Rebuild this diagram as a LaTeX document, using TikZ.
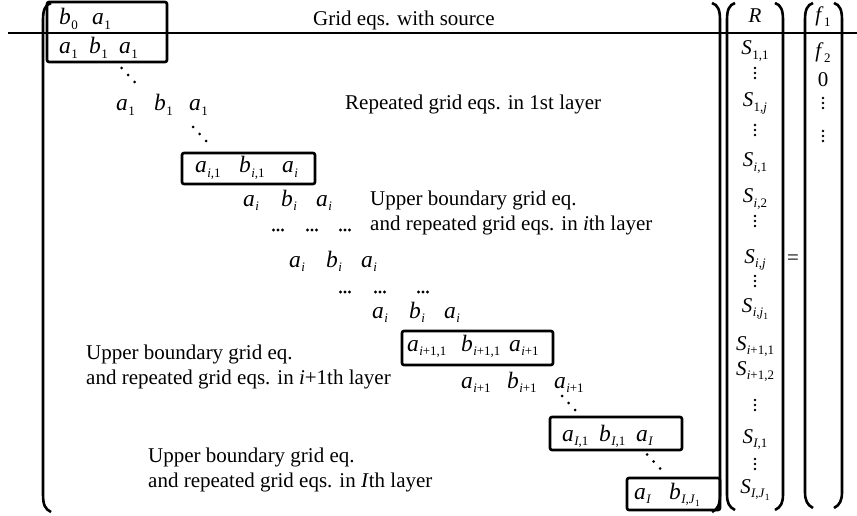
\documentclass[tikz,border=0pt]{standalone}
\usepackage{fontspec}
\setmainfont{Liberation Serif}
\newcommand\sv[2]{\textit{#1}\kern0.3pt\raisebox{-4.5pt}{\fontsize{13}{13}\selectfont #2}}
\newcommand\ssub[2]{\textit{#1}\raisebox{-2.5pt}{\fontsize{9.5}{9.5}\selectfont #2}}
\tikzset{
 txt/.style={inner sep=0pt, font=\fontsize{21}{25}\selectfont, anchor=base west, align=left},
 ent/.style={inner sep=0pt, font=\fontsize{23.5}{25}\selectfont, anchor=base west},
 vent/.style={inner sep=0pt, font=\fontsize{21}{24}\selectfont, anchor=base},
 eqbox/.style={draw, line width=2.6pt, rounded corners=2pt, inner sep=0pt},
 paren/.style={line width=2.6pt},
 vdts/.pic={\fill (0,-5) circle (1.4) (0,0) circle (1.4) (0,5) circle (1.4);},
 hdts/.pic={\fill (-4.5,0) circle (1.6) (0,0) circle (1.6) (4.5,0) circle (1.6);},
 ddts/.pic={\fill (-6.5,-7) circle (1.5) (0,0) circle (1.5) (6.5,7) circle (1.5);},
}
\begin{document}
\begin{tikzpicture}[x=1pt,y=-1pt]
\fill[white] (0,0) rectangle (857,516);
\useasboundingbox (0,0) rectangle (857,516);
% top line
\draw[line width=2.6pt] (8,33) -- (857,33);
% boxes
\node[eqbox, minimum width=120pt, minimum height=60pt] (box1) at (107,32) {};
\node[eqbox, minimum width=133pt, minimum height=31pt] (box2) at (248.5,168.5) {};
\node[eqbox, minimum width=151pt, minimum height=34pt] (box3) at (477.5,348) {};
\node[eqbox, minimum width=132pt, minimum height=33pt] (box4) at (616,433.5) {};
\node[eqbox, minimum width=93pt, minimum height=32pt] (box5) at (673.5,494) {};
% big parentheses
\draw[paren] (51,3) .. controls (45,5) and (43,10) .. (43,20) -- (43,494) .. controls (43,505) and (45,509) .. (51,512);
\draw[paren] (712,3) .. controls (718,5) and (720,10) .. (720,20) -- (720,494) .. controls (720,505) and (718,509) .. (712,512);
\draw[paren] (735,3) .. controls (729,5) and (727,10) .. (727,20) -- (727,494) .. controls (727,503) and (729,507) .. (735,510);
\draw[paren] (775,3) .. controls (781,5) and (783,10) .. (783,20) -- (783,494) .. controls (783,503) and (781,507) .. (775,510);
\draw[paren] (813,3) .. controls (807,5) and (805,10) .. (805,20) -- (805,492) .. controls (805,500) and (807,505) .. (813,508);
\draw[paren] (834,3) .. controls (840,5) and (842,10) .. (842,20) -- (842,492) .. controls (842,500) and (840,505) .. (834,508);
% row entries
\node[ent] (r1a) at (59,25) {\sv{b}{0}};
\node[ent] (r1b) at (92,25) {\sv{a}{1}};
\node[ent] (r2a) at (59,54) {\sv{a}{1}};
\node[ent] (r2b) at (89,54) {\sv{b}{1}};
\node[ent] (r2c) at (119,54) {\sv{a}{1}};
\pic at (128,75) {ddts};
\node[ent] (r3a) at (116,111) {\sv{a}{1}};
\node[ent] (r3b) at (154,111) {\sv{b}{1}};
\node[ent] (r3c) at (189,111) {\sv{a}{1}};
\pic at (199.5,134) {ddts};
\node[ent] (r4a) at (195,173) {\sv{a}{\textit{i},1}};
\node[ent] (r4b) at (239,173) {\sv{b}{\textit{i},1}};
\node[ent] (r4c) at (282,173) {\sv{a}{\textit{i}}};
\node[ent] (r5a) at (243,206) {\sv{a}{\textit{i}}};
\node[ent] (r5b) at (281,206) {\sv{b}{\textit{i}}};
\node[ent] (r5c) at (316,206) {\sv{a}{\textit{i}}};
\pic at (278,230) {hdts};
\pic at (312,230) {hdts};
\pic at (345,230) {hdts};
\node[ent] (r6a) at (289,267) {\sv{a}{\textit{i}}};
\node[ent] (r6b) at (326,267) {\sv{b}{\textit{i}}};
\node[ent] (r6c) at (361,267) {\sv{a}{\textit{i}}};
\pic at (345,292) {hdts};
\pic at (380,292) {hdts};
\pic at (423,292) {hdts};
\node[ent] (r7a) at (372,318) {\sv{a}{\textit{i}}};
\node[ent] (r7b) at (409,318) {\sv{b}{\textit{i}}};
\node[ent] (r7c) at (444,318) {\sv{a}{\textit{i}}};
\node[ent] (r8a) at (407,351) {\sv{a}{\textit{i}+1,1}};
\node[ent] (r8b) at (461,351) {\sv{b}{\textit{i}+1,1}};
\node[ent] (r8c) at (509,351) {\sv{a}{\textit{i}+1}};
\node[ent] (r9a) at (461,388) {\sv{a}{\textit{i}+1}};
\node[ent] (r9b) at (507,388) {\sv{b}{\textit{i}+1}};
\node[ent] (r9c) at (554,388) {\sv{a}{\textit{i}+1}};
\pic at (568.5,403) {ddts};
\node[ent] (r10a) at (562,441) {\sv{a}{\textit{I},1}};
\node[ent] (r10b) at (599,441) {\sv{b}{\textit{I},1}};
\node[ent] (r10c) at (636,441) {\sv{a}{\textit{I}}};
\pic at (653.5,461.5) {ddts};
\node[ent] (r11a) at (634,499) {\sv{a}{\textit{I}}};
\node[ent] (r11b) at (669,499) {\sv{b}{\textit{I},\ssub{J}{1}}};
% descriptions
\node[txt] (t1) at (313,26) {Grid eqs. with source};
\node[txt] (t2) at (345,110) {Repeated grid eqs. in 1st layer};
\node[txt] (t3) at (370,205) {Upper boundary grid eq.};
\node[txt] (t3b) at (370,230) {and repeated grid eqs. in \textit{i}th layer};
\node[txt] (t4) at (86,359) {Upper boundary grid eq.};
\node[txt] (t4b) at (86,384) {and repeated grid eqs. in \textit{i}+1th layer};
\node[txt] (t5) at (148,462) {Upper boundary grid eq.};
\node[txt] (t5b) at (148,487) {and repeated grid eqs. in \textit{I}th layer};
% R column
\node[vent] (R) at (755,23) {\textit{R}};
\node[vent] (S11) at (755,55) {\sv{S}{1,1}};
\pic at (755,73) {vdts};
\node[vent] (S1j) at (755,107) {\sv{S}{1,\textit{j}}};
\pic at (755,130) {vdts};
\node[vent] (Si1) at (755,167) {\sv{S}{\textit{i},1}};
\node[vent] (Si2) at (755,203) {\sv{S}{\textit{i},2}};
\pic at (755,221) {vdts};
\node[vent] (Sij) at (755,263) {\sv{S}{\textit{i},\textit{j}}};
\pic at (755,281) {vdts};
\node[vent] (Sij1) at (755,312) {\sv{S}{\textit{i},\ssub{j}{1}}};
\node[vent] (Sp1) at (755,350) {\sv{S}{\textit{i}+1,1}};
\node[vent] (Sp2) at (755,375) {\sv{S}{\textit{i}+1,2}};
\pic at (755,405) {vdts};
\node[vent] (SI1) at (755,443) {\sv{S}{\textit{I},1}};
\pic at (755,464) {vdts};
\node[vent] (SIJ) at (755,493) {\sv{S}{\textit{I},\ssub{J}{1}}};
% equals
\node[inner sep=0pt, font=\fontsize{21}{25}\selectfont] (eq) at (793,260) {=};
% f column
\node[vent] (f1) at (823,22) {\sv{f}{1}};
\node[vent] (f2) at (823,58) {\sv{f}{2}};
\node[vent] (f0) at (823,87) {0};
\pic at (823,103) {vdts};
\pic at (823,136) {vdts};
\end{tikzpicture}
\end{document}
